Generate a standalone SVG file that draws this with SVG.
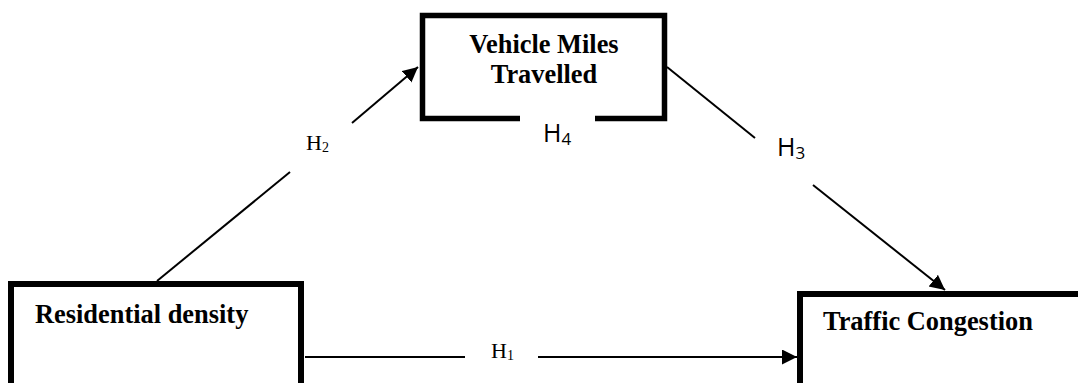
<svg xmlns="http://www.w3.org/2000/svg" width="1078" height="383" viewBox="0 0 1078 383">
<style>
.box{fill:#fff;stroke:#000;stroke-width:6}
.lbl{font-family:"Liberation Serif","Times New Roman",serif;font-weight:bold;font-size:26.4px;fill:#000}
.conn{stroke:#000;stroke-width:2;fill:none}
.hs{font-family:"Liberation Serif","Times New Roman",serif;font-size:22px;fill:#000}
.hsans{font-family:"Open Sans","Liberation Sans",Arial,sans-serif;font-size:25px;fill:#000}
</style>
<defs>
<marker id="arr" markerUnits="userSpaceOnUse" markerWidth="16" markerHeight="16" refX="15" refY="7.5" orient="auto">
<path d="M0,0 L15,7.5 L0,15 z" fill="#000"/>
</marker>
</defs>
<rect width="1078" height="383" fill="#fff"/>
<g id="vmt">
<path d="M520,118.5 H422.5 V15.5 H664.5 V118.5 H595" fill="#fff" stroke="#000" stroke-width="5.5"/>
<text class="lbl" x="544" y="53" text-anchor="middle">Vehicle Miles</text>
<text class="lbl" x="544" y="83" text-anchor="middle">Travelled</text>
</g>
<g id="residential">
<rect class="box" x="11" y="284" width="290" height="120"/>
<text class="lbl" x="35" y="323">Residential density</text>
</g>
<g id="traffic">
<rect class="box" x="800" y="294" width="300" height="110"/>
<text class="lbl" x="823" y="330">Traffic Congestion</text>
</g>
<g id="connectors">
<line class="conn" x1="157" y1="281" x2="290" y2="172"/>
<line class="conn" x1="352" y1="123" x2="418" y2="67" marker-end="url(#arr)"/>
<line class="conn" x1="667" y1="67" x2="755" y2="138"/>
<line class="conn" x1="813" y1="185" x2="945" y2="290" marker-end="url(#arr)"/>
<line class="conn" x1="305" y1="357" x2="465" y2="357"/>
<line class="conn" x1="538" y1="357" x2="797" y2="357" marker-end="url(#arr)"/>
</g>
<g id="labels">
<text class="hs" x="306" y="150">H<tspan font-size="14" dy="2">2</tspan></text>
<text class="hs" x="491" y="358">H<tspan font-size="14" dy="2">1</tspan></text>
<text class="hsans" x="543" y="142">H<tspan font-size="17" dy="3">4</tspan></text>
<text class="hsans" x="777" y="156">H<tspan font-size="17" dy="3">3</tspan></text>
</g>
</svg>
